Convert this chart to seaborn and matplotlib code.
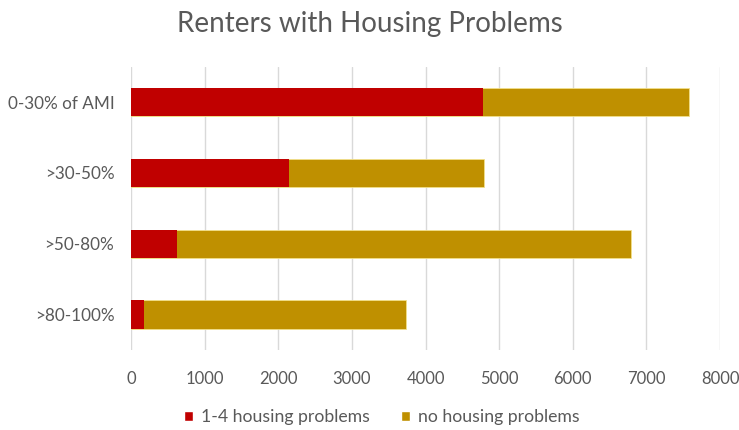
import matplotlib
matplotlib.use("Agg")
import matplotlib.pyplot as plt
import seaborn as sns
import pandas as pd
from matplotlib.patches import Patch

categories = ["0-30% of AMI", ">30-50%", ">50-80%", ">80-100%"]
with_problems = [4775, 2140, 620, 180]
no_problems = [2800, 2655, 6170, 3550]
series_names = ["1-4 housing problems", "no housing problems"]
xticks = [0, 1000, 2000, 3000, 4000, 5000, 6000, 7000, 8000]

red = "#C00000"
gold = "#BF9000"
text_gray = "#595959"
grid_gray = "#D9D9D9"

sns.set_theme(style="white")
plt.rcParams["font.family"] = ["Lato", "DejaVu Sans"]

df = pd.DataFrame({
    "category": categories,
    "with": with_problems,
    "total": [a + b for a, b in zip(with_problems, no_problems)],
})

fig = plt.figure(figsize=(7.39, 4.30), dpi=100)
ax = fig.add_axes([0.1773, 0.186, 0.797, 0.659])

# stacked bars: total first, then the housing-problem share on top
sns.barplot(data=df, y="category", x="total", color=gold, orient="h", saturation=1,
            width=0.4, ax=ax, edgecolor="#F2E08A", linewidth=0.6, zorder=3)
sns.barplot(data=df, y="category", x="with", color=red, orient="h", saturation=1,
            width=0.4, ax=ax, linewidth=0, zorder=4)

ax.set_xlim(0, 8000)
ax.set_xticks(xticks)
ax.set_xticklabels([str(t) for t in xticks], color=text_gray, fontsize=12)
ax.tick_params(axis="y", labelsize=12.3, labelcolor=text_gray, length=0, pad=12)
ax.tick_params(axis="x", length=0, pad=15)
ax.set_xlabel("")
ax.set_ylabel("")
ax.xaxis.grid(True, color=grid_gray, linewidth=1, zorder=0)
ax.set_axisbelow(True)
for s in ax.spines.values():
    s.set_visible(False)

fig.suptitle("Renters with Housing Problems", y=0.975, fontsize=20, color=text_gray)

handles = [Patch(facecolor=red, label=series_names[0]),
           Patch(facecolor=gold, label=series_names[1])]
fig.legend(handles=handles, loc="center", bbox_to_anchor=(0.517, 0.03), ncol=2,
           frameon=False, fontsize=12.7, labelcolor=text_gray,
           handlelength=0.51, handleheight=0.51, handletextpad=0.45, columnspacing=1.75)

fig.savefig("out.png", dpi=100)
